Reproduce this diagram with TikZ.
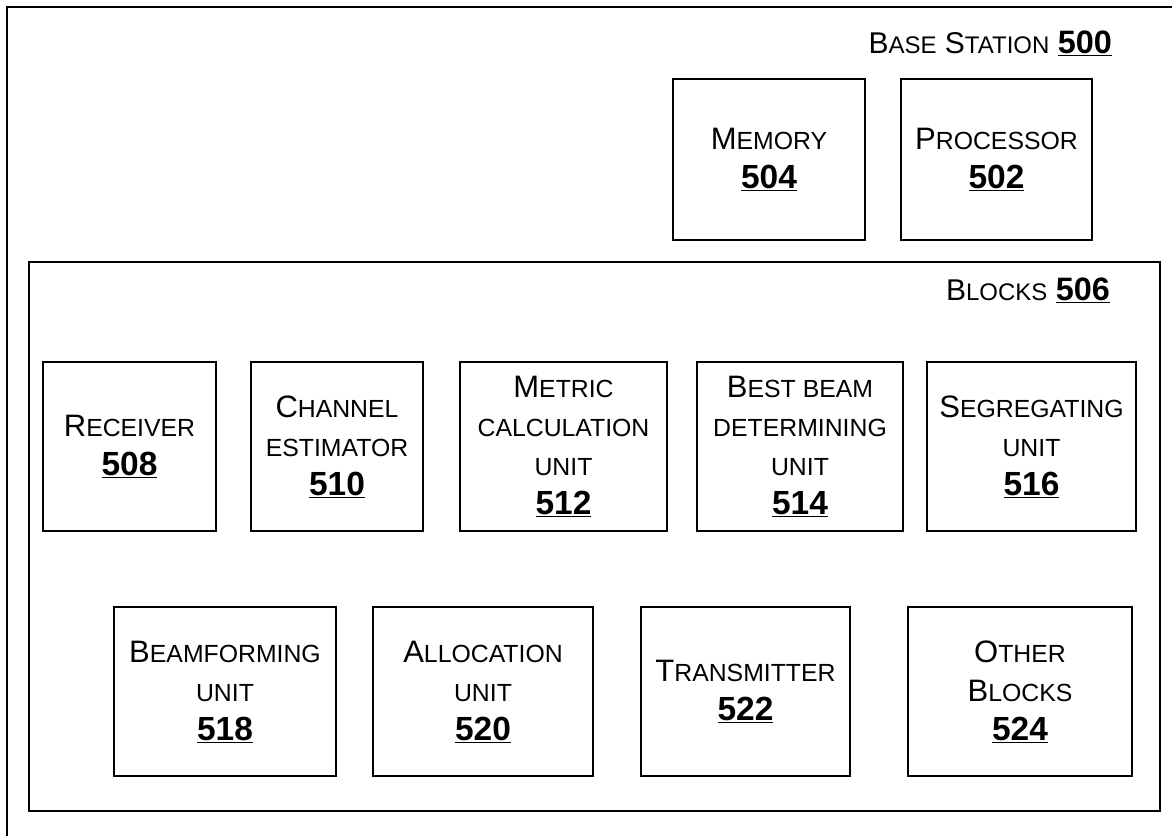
\documentclass[tikz,border=0pt]{standalone}
\usepackage{fontspec}
\setmainfont{Liberation Sans}
\usepackage{tikz}
\usetikzlibrary{positioning}
\makeatletter
\newcommand\fsc[1]{{\fontsize{\fpeval{0.8*\f@size}}{\f@baselineskip}\selectfont\MakeUppercase{#1}}}
\newcommand\refnum[1]{{\fontsize{\fpeval{1.08*\f@size}}{\f@baselineskip}\selectfont\bfseries\underline{#1}}}
\makeatother
\tikzstyle{unitbox} = [rectangle, draw=black, line width=1.8pt, align=center, inner sep=0pt, font=\fontsize{31}{39}\selectfont]
\tikzstyle{framebox} = [rectangle, draw=black, line width=2.2pt, inner sep=0pt]
\tikzstyle{title} = [anchor=base east, inner sep=0pt, font=\fontsize{30}{34}\selectfont]

\begin{document}
\begin{tikzpicture}[x=1pt, y=-1pt]
    \useasboundingbox (0,0) rectangle (1172,836);

    % Base station frame (open at right and bottom)
    \coordinate (bsbottom) at (7,836);
    \coordinate (bsright) at (1172,7);
    \draw[line width=1.6pt] (bsbottom) |- (bsright);
    \node[title] (bstitle) at (1112,53) {B\fsc{ase} S\fsc{tation} \refnum{500}};

    % Memory and processor
    \node[unitbox, minimum width=192, minimum height=161] (mem) at (769,159.5) {M\fsc{emory}\\\refnum{504}};
    \node[unitbox, minimum width=191, minimum height=161] (proc) at (996.5,159.5) {P\fsc{rocessor}\\\refnum{502}};

    % Blocks frame
    \node[framebox, minimum width=1131, minimum height=549] (blocks) at (594.5,536.5) {};
    \node[title] (blktitle) at (1110,300) {B\fsc{locks} \refnum{506}};

    % First row
    \node[unitbox, minimum width=173, minimum height=169] (recv) at (129.5,446.5) {R\fsc{eceiver}\\\refnum{508}};
    \node[unitbox, minimum width=172, minimum height=169] (chest) at (337,446.5) {C\fsc{hannel}\\\fsc{estimator}\\\refnum{510}};
    \node[unitbox, minimum width=207, minimum height=169] (metric) at (563.5,446.5) {M\fsc{etric}\\\fsc{calculation}\\\fsc{unit}\\\refnum{512}};
    \node[unitbox, minimum width=206, minimum height=169] (best) at (800,446.5) {B\fsc{est beam}\\\fsc{determining}\\\fsc{unit}\\\refnum{514}};
    \node[unitbox, minimum width=209, minimum height=169] (segr) at (1031.5,446.5) {S\fsc{egregating}\\\fsc{unit}\\\refnum{516}};

    % Second row
    \node[unitbox, minimum width=222, minimum height=169] (beam) at (225,691.5) {B\fsc{eamforming}\\\fsc{unit}\\\refnum{518}};
    \node[unitbox, minimum width=220, minimum height=169] (alloc) at (483,691.5) {A\fsc{llocation}\\\fsc{unit}\\\refnum{520}};
    \node[unitbox, minimum width=209, minimum height=169] (trans) at (745.5,691.5) {T\fsc{ransmitter}\\\refnum{522}};
    \node[unitbox, minimum width=224, minimum height=169] (other) at (1020,691.5) {O\fsc{ther}\\B\fsc{locks}\\\refnum{524}};
\end{tikzpicture}
\end{document}
